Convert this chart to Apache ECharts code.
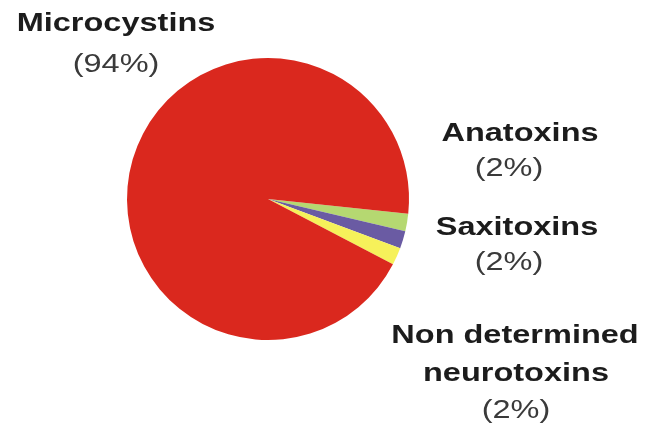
<!DOCTYPE html>
<html>
<head>
<meta charset="utf-8">
<script src="https://cdn.jsdelivr.net/npm/echarts@6/dist/echarts.min.js"></script>
<style>
  html, body { margin: 0; padding: 0; background: #fff; }
  #chart { width: 648px; height: 429px; }
</style>
</head>
<body>
<div id="chart"></div>
<script>
// Toxin classes, clockwise from just below the 3 o'clock position
const toxinNames = ['Anatoxins', 'Saxitoxins', 'Non determined neurotoxins', 'Microcystins'];
const toxinShares = [2, 2, 2, 94];
const toxinColors = ['#b5d871', '#6a5ba3', '#f6f15a', '#da281e'];

// Label blocks: name lines (bold) followed by the share line
const labelNameLines = [
  ['Anatoxins'],
  ['Saxitoxins'],
  ['Non determined', 'neurotoxins'],
  ['Microcystins']
];

const chart = echarts.init(document.getElementById('chart'), null, { renderer: 'canvas' });

const FONT_BOLD = 'bold 25px "Liberation Sans", Arial, sans-serif';
const FONT_REG = '25px "Liberation Sans", Arial, sans-serif';
const STRETCH = 1.3;

// Line positions (centre x, middle y) for each label block
const labelPlacement = [
  { names: [[520, 134]], share: [509, 169] },
  { names: [[517, 228]], share: [509, 263] },
  { names: [[515, 336], [516, 374]], share: [516, 411] },
  { names: [[116, 24]], share: [116, 65] }
];

const graphics = [];
labelNameLines.forEach((lines, i) => {
  const p = labelPlacement[i];
  lines.forEach((line, j) => {
    graphics.push({
      type: 'text', x: p.names[j][0], y: p.names[j][1], scaleX: STRETCH,
      style: { text: line, font: FONT_BOLD, fill: '#1c1c1c', align: 'center', verticalAlign: 'middle' }
    });
  });
  graphics.push({
    type: 'text', x: p.share[0], y: p.share[1], scaleX: STRETCH,
    style: { text: '(' + toxinShares[i] + '%)', font: FONT_REG, fill: '#3a3a3a', align: 'center', verticalAlign: 'middle' }
  });
});

chart.setOption({
  animation: false,
  backgroundColor: '#ffffff',
  graphic: graphics,
  series: [{
    type: 'pie',
    center: [268, 199],
    radius: 141,
    startAngle: -6,
    clockwise: true,
    avoidLabelOverlap: false,
    label: { show: false },
    labelLine: { show: false },
    emphasis: { disabled: true },
    itemStyle: { borderWidth: 0 },
    data: toxinNames.map((n, i) => ({
      name: n, value: toxinShares[i], itemStyle: { color: toxinColors[i] }
    }))
  }]
});
</script>
</body>
</html>
